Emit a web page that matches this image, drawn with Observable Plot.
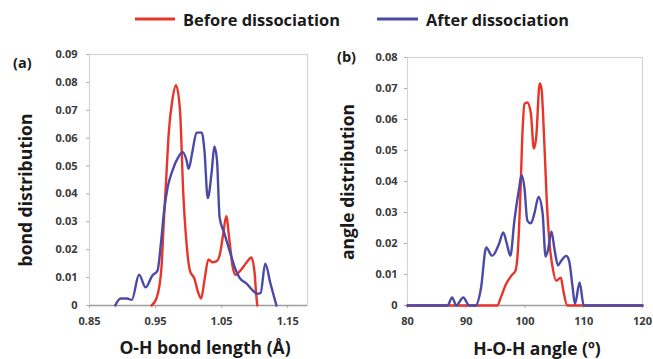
<!DOCTYPE html>
<html>
<head>
<meta charset="utf-8">
<script src="https://cdn.jsdelivr.net/npm/d3@7"></script>
<script src="https://cdn.jsdelivr.net/npm/@observablehq/plot@0.6"></script>
<style>
  html, body { margin: 0; padding: 0; background: #fff; }
  #wrap { position: relative; width: 653px; height: 359px; overflow: hidden; background: #fff; }
  #wrap > svg, #wrap > div { position: absolute; }
  #wrap svg text { font-family: "Open Sans", Lato, sans-serif; font-weight: bold; }
</style>
</head>
<body>
<div id="wrap"></div>
<script>
// ---- Data ----
const seriesNames = ["Before dissociation", "After dissociation"];
const seriesColors = ["#e8352b", "#4a4aa6"];

// Panel (a): O-H bond length (Å) vs bond distribution
const aBeforeX = [0.944, 0.952, 0.959, 0.962, 0.966, 0.970, 0.975, 0.981, 0.987, 0.992, 0.997, 1.002, 1.009, 1.014, 1.019, 1.024, 1.030, 1.036, 1.042, 1.047, 1.052, 1.057, 1.062, 1.067, 1.071, 1.080, 1.088, 1.095, 1.100, 1.102, 1.104];
const aBeforeY = [0, 0.003, 0.0137, 0.028, 0.045, 0.062, 0.073, 0.079, 0.070, 0.040, 0.022, 0.0125, 0.0095, 0.005, 0.0025, 0.009, 0.0165, 0.0155, 0.0158, 0.018, 0.025, 0.032, 0.023, 0.0135, 0.011, 0.013, 0.0155, 0.0172, 0.0115, 0.005, 0];
const aAfterX = [0.889, 0.897, 0.907, 0.914, 0.925, 0.935, 0.945, 0.953, 0.958, 0.963, 0.968, 0.975, 0.984, 0.991, 0.997, 1.000, 1.006, 1.012, 1.020, 1.024, 1.029, 1.035, 1.039, 1.043, 1.047, 1.054, 1.062, 1.070, 1.077, 1.088, 1.097, 1.104, 1.109, 1.116, 1.124, 1.133];
const aAfterY = [0, 0.0025, 0.0025, 0.002, 0.011, 0.0065, 0.0107, 0.0125, 0.022, 0.034, 0.042, 0.048, 0.053, 0.055, 0.052, 0.049, 0.0555, 0.062, 0.062, 0.0555, 0.0385, 0.048, 0.057, 0.052, 0.0315, 0.026, 0.0197, 0.0136, 0.010, 0.0078, 0.0054, 0.0042, 0.0045, 0.015, 0.0078, 0];

// Panel (b): H-O-H angle (º) vs angle distribution
const bBeforeX = [80, 95.3, 95.9, 96.8, 97.7, 98.4, 98.8, 99.2, 99.6, 99.9, 100.4, 101.0, 101.5, 101.9, 102.5, 102.8, 103.3, 103.7, 104.2, 104.7, 105.3, 106.1, 106.5, 107.2, 120];
const bBeforeY = [0, 0, 0.0027, 0.007, 0.0097, 0.0113, 0.018, 0.035, 0.057, 0.065, 0.0655, 0.062, 0.0506, 0.054, 0.0716, 0.070, 0.052, 0.034, 0.0195, 0.0123, 0.008, 0.009, 0.005, 0, 0];
const bAfterX = [80, 86.8, 87.6, 88.3, 89.5, 90.5, 91.6, 92.5, 93.4, 94.4, 95.6, 96.3, 96.9, 97.5, 98.2, 99.0, 99.4, 99.9, 100.4, 101.0, 101.6, 102.3, 103.0, 103.5, 103.9, 104.5, 105.0, 105.6, 106.2, 107.0, 107.5, 108.1, 108.5, 109.3, 110.0, 120];
const bAfterY = [0, 0, 0.0026, 0, 0.0026, 0, 0, 0.0055, 0.0187, 0.016, 0.020, 0.0236, 0.020, 0.016, 0.0275, 0.0378, 0.042, 0.038, 0.0274, 0.0265, 0.0297, 0.035, 0.0297, 0.0158, 0.0178, 0.0239, 0.0184, 0.013, 0.0145, 0.016, 0.0145, 0.006, 0.0005, 0.0074, 0, 0];

// Tick labels
const aXTicks = [0.85, 0.95, 1.05, 1.15];
const aYTicks = [0, 0.01, 0.02, 0.03, 0.04, 0.05, 0.06, 0.07, 0.08, 0.09];
const bXTicks = [80, 90, 100, 110, 120];
const bYTicks = [0, 0.01, 0.02, 0.03, 0.04, 0.05, 0.06, 0.07, 0.08];

const panelLabels = ["(a)", "(b)"];
const xTitles = ["O-H bond length (Å)", "H-O-H angle (º)"];
const yTitles = ["bond distribution", "angle distribution"];

// ---- helpers ----
const toRows = (xs, ys, s) => xs.map((x, i) => ({x, y: ys[i], s}));
const yFmt = d => d === 0 ? "0" : d.toFixed(2);
const font = "'Open Sans', Lato, sans-serif";

function panel({width, ml, mr, mt, mb, xDomain, xTicks, xFmt, yDomain, yTicks, rows, yPad}) {
  return Plot.plot({
    width, height: 359,
    marginLeft: ml, marginRight: mr, marginTop: mt, marginBottom: mb,
    style: {fontFamily: font, fontWeight: "bold", fontSize: "11px", color: "#3a3a3a", background: "transparent", overflow: "visible"},
    x: {domain: xDomain},
    y: {domain: yDomain},
    marks: [
      Plot.frame({stroke: "#d4d4d4", strokeWidth: 1.2}),
      Plot.axisY({ticks: yTicks, tickFormat: yFmt, tickSize: 3, tickPadding: yPad, stroke: "#aaa", fill: "#3a3a3a", label: null}),
      Plot.axisX({ticks: xTicks, tickFormat: xFmt, tickSize: 3, tickPadding: 9, stroke: "#aaa", fill: "#3a3a3a", label: null}),
      Plot.ruleY([0], {stroke: "#a0a0a0", strokeWidth: 1.6}),
      Plot.line(rows.filter(r => r.s === seriesNames[0]), {x: "x", y: "y", stroke: seriesColors[0], strokeWidth: 2.4, curve: "monotone-x"}),
      Plot.line(rows.filter(r => r.s === seriesNames[1]), {x: "x", y: "y", stroke: seriesColors[1], strokeWidth: 2.4, curve: "monotone-x"})
    ]
  });
}

const wrap = document.getElementById("wrap");

const rowsA = [...toRows(aBeforeX, aBeforeY, seriesNames[0]), ...toRows(aAfterX, aAfterY, seriesNames[1])];
const rowsB = [...toRows(bBeforeX, bBeforeY, seriesNames[0]), ...toRows(bAfterX, bAfterY, seriesNames[1])];

const pa = panel({width: 320, ml: 89, mr: 13, mt: 54, mb: 54, xDomain: [0.85, 1.18], xTicks: aXTicks, xFmt: d => d.toFixed(2), yDomain: [0, 0.09], yTicks: aYTicks, rows: rowsA, yPad: 9});
pa.style.left = "0px"; pa.style.top = "0px";
wrap.appendChild(pa);

const pb = panel({width: 333, ml: 87, mr: 11, mt: 57, mb: 54, xDomain: [80, 120], xTicks: bXTicks, xFmt: d => String(d), yDomain: [0, 0.08], yTicks: bYTicks, rows: rowsB, yPad: 7});
pb.style.left = "320px"; pb.style.top = "0px";
wrap.appendChild(pb);

// ---- overlay texts: legend, panel letters, axis titles ----
const ov = d3.select(wrap).append("svg")
  .attr("width", 653).attr("height", 359)
  .style("left", "0px").style("top", "0px").style("pointer-events", "none")
  .attr("font-family", font).attr("font-weight", "bold").attr("fill", "#1a1a1a");

const legendPos = [{x1: 135, x2: 175, tx: 183}, {x1: 377, x2: 418, tx: 426}];
seriesNames.forEach((n, i) => {
  const p = legendPos[i];
  ov.append("line").attr("x1", p.x1).attr("x2", p.x2).attr("y1", 19).attr("y2", 19)
    .attr("stroke", seriesColors[i]).attr("stroke-width", 3);
  ov.append("text").attr("x", p.tx).attr("y", 26).attr("font-size", 16.5).attr("textLength", i === 0 ? 157 : 143).attr("lengthAdjust", "spacingAndGlyphs").text(n);
});

ov.append("text").attr("x", 13).attr("y", 68).attr("font-size", 14.5).text(panelLabels[0]);
ov.append("text").attr("x", 337).attr("y", 62).attr("font-size", 14.5).text(panelLabels[1]);

ov.append("text").attr("x", 205).attr("y", 354).attr("text-anchor", "middle").attr("font-size", 17.5).text(xTitles[0]);
ov.append("text").attr("x", 537).attr("y", 355).attr("text-anchor", "middle").attr("font-size", 17.5).text(xTitles[1]);

ov.append("text").attr("transform", "translate(32,190) rotate(-90)").attr("text-anchor", "middle").attr("font-size", 17.5).text(yTitles[0]);
ov.append("text").attr("transform", "translate(354,182) rotate(-90)").attr("text-anchor", "middle").attr("font-size", 17.5).text(yTitles[1]);
</script>
</body>
</html>
